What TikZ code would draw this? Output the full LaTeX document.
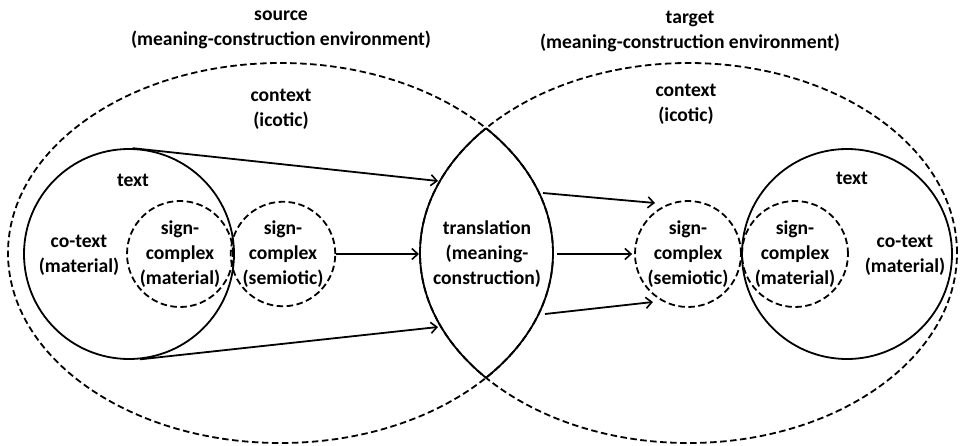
\documentclass[tikz,border=0pt]{standalone}
\usepackage{fontspec}
\setmainfont{Carlito}
\usetikzlibrary{arrows.meta}
\begin{document}
\begin{tikzpicture}[x=1pt,y=-1pt,
  lw/.style={line width=1.8pt},
  dsh/.style={lw,dash pattern=on 6.5pt off 3.5pt},
  lbl/.style={align=center,font=\fontsize{19.6}{25}\selectfont\bfseries,inner sep=0pt},
  arr/.style={lw,-{Straight Barb[length=6pt,width=11pt,line width=1.6pt]}},
  circ/.style={circle,inner sep=0pt,minimum size=#1}
]
\useasboundingbox (0,0) rectangle (961,445);
% context ellipses (dashed)
\draw[dsh] (280.5,253) ellipse [x radius=272.5pt, y radius=190pt];
\draw[dsh] (688.5,253) ellipse [x radius=268.5pt, y radius=190pt];
% translation lens (solid)
\begin{scope}
  \clip (688.5,253) ellipse [x radius=268.5pt, y radius=190pt];
  \draw[lw] (280.5,253) ellipse [x radius=272.5pt, y radius=190pt];
\end{scope}
\begin{scope}
  \clip (280.5,253) ellipse [x radius=272.5pt, y radius=190pt];
  \draw[lw] (688.5,253) ellipse [x radius=268.5pt, y radius=190pt];
\end{scope}
% headings
\node[lbl] (src) at (281,30) {source\\(meaning-construction environment)};
\node[lbl] (tgt) at (690,31) {target\\(meaning-construction environment)};
\node[lbl] (lctx) at (281,109) {context\\(icotic)};
\node[lbl] (rctx) at (686,104) {context\\(icotic)};
\node[lbl] (trans) at (487,254) {translation\\(meaning-\\construction)};
% left side
\node[circ=210pt,draw,lw] (ltext) at (129,254) {};
\node[lbl] (ltextl) at (133,180) {text};
\node[lbl] (lco) at (79,255) {co-text\\(material)};
\node[circ=106pt,draw,dsh,lbl] (lmat) at (180,254) {sign-\\complex\\(material)};
\node[circ=104pt,draw,dsh,lbl] (lsem) at (283,254) {sign-\\complex\\(semiotic)};
% right side
\node[circ=210pt,draw,lw] (rtext) at (847,254) {};
\node[lbl] (rtextl) at (852,178) {text};
\node[lbl] (rco) at (905,255) {co-text\\(material)};
\node[circ=106pt,draw,dsh,lbl] (rmat) at (795,254) {sign-\\complex\\(material)};
\node[circ=106pt,draw,dsh,lbl] (rsem) at (688,254) {sign-\\complex\\(semiotic)};
% lens points
\coordinate (inA) at (438,181);
\coordinate (inB) at (419,254);
\coordinate (inC) at (438,327);
\coordinate (outA) at (543,193);
\coordinate (outB) at (557,254);
\coordinate (outC) at (545,314);
\coordinate (tgA) at (655,203);
\coordinate (tgC) at (653,302);
% arrows
\draw[arr] (ltext.88) -- (inA);
\draw[arr] (lsem.east) -- (inB);
\draw[arr] (ltext.-84) -- (inC);
\draw[arr] (outA) -- (tgA);
\draw[arr] (outB) -- ([xshift=-2pt]rsem.west);
\draw[arr] (outC) -- (tgC);
\end{tikzpicture}
\end{document}
